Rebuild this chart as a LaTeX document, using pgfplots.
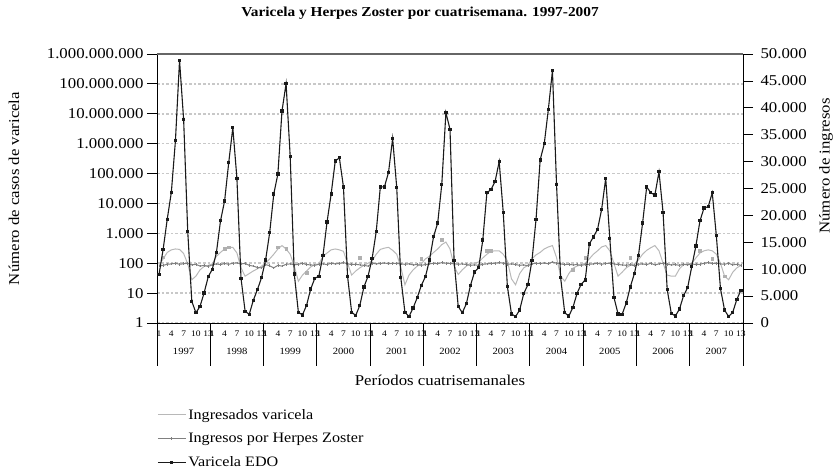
\documentclass[border=0pt]{standalone}
\usepackage{fontspec}
\setmainfont{Liberation Serif}[FakeStretch=1.12]
\usepackage{pgfplots}
\usepackage{pgfplotstable}
\pgfplotsset{compat=1.18}
\definecolor{edoc}{HTML}{1A1A1A}
\definecolor{hzc}{HTML}{808080}
\definecolor{ingc}{HTML}{B8B8B8}
\definecolor{sqc}{HTML}{B0B0B0}
\definecolor{gridc}{HTML}{C8C8C8}
\definecolor{topc}{HTML}{666666}

\pgfplotstableread{
i edo ing hz
0 9070 85 80
1 13700 140 85
2 19300 230 92
3 24300 280 95
4 33900 300 100
5 48800 290 92
6 37800 210 96
7 17000 95 100
8 4000 28 88
9 1900 37 92
10 3100 60 80
11 5600 78 85
12 8600 85 78
13 10000 95 88
14 13100 170 95
15 19000 230 90
16 22700 300 98
17 29800 330 92
18 36300 340 100
19 26900 220 103
20 8300 70 95
21 2200 37 98
22 1600 45 85
23 4200 55 80
24 6200 65 72
25 8400 80 70
26 11700 100 90
27 16800 140 82
28 24000 200 70
29 27700 300 85
30 39400 390 80
31 44500 300 92
32 31000 200 95
33 9100 80 88
34 2000 25 92
35 1500 40 100
36 3300 55 90
37 6300 75 88
38 8300 90 85
39 8700 95 92
40 12500 170 95
41 18800 220 90
42 24000 280 100
43 30100 300 95
44 30700 280 98
45 25300 250 105
46 8700 100 96
47 2000 40 90
48 1400 55 92
49 3300 70 88
50 6700 85 85
51 8700 100 80
52 12000 120 100
53 17000 200 95
54 25300 290 98
55 25300 320 102
56 28000 340 96
57 34300 270 100
58 25200 200 98
59 8400 75 95
60 2000 19 92
61 1200 40 95
62 2800 60 88
63 4700 80 90
64 7000 95 85
65 8600 140 90
66 11700 170 95
67 16100 230 100
68 18600 300 96
69 25800 420 105
70 39100 510 100
71 36000 300 98
72 11600 80 96
73 3100 42 92
74 1900 60 95
75 3600 80 90
76 7000 100 85
77 9500 100 88
78 10300 110 85
79 15400 150 92
80 24200 200 95
81 24800 250 98
82 26300 260 100
83 30000 260 105
84 20500 200 100
85 6800 120 92
86 1700 30 95
87 1200 19 90
88 2400 45 85
89 5500 70 88
90 7100 85 82
91 11600 140 95
92 19300 190 100
93 30300 230 98
94 33300 300 102
95 39700 350 96
96 46900 390 110
97 25700 155 100
98 8400 37 95
99 1900 25 90
100 1300 45 92
101 2900 68 88
102 5500 80 90
103 7200 90 85
104 8000 100 90
105 14700 140 92
106 16000 200 95
107 17400 260 100
108 21100 350 92
109 26900 390 98
110 15700 260 100
111 4800 100 95
112 1700 37 90
113 1600 50 88
114 3700 70 85
115 6700 85 90
116 9200 95 82
117 12600 130 92
118 18600 200 95
119 25300 270 90
120 24200 330 100
121 23800 390 88
122 28100 260 95
123 20500 100 100
124 6200 40 92
125 1800 37 88
126 1300 37 90
127 2600 65 85
128 5100 90 92
129 6600 95 88
130 10500 100 95
131 14300 150 90
132 19000 220 92
133 21400 260 100
134 21600 280 105
135 24200 260 98
136 16200 200 100
137 6400 100 95
138 2400 37 92
139 1200 28 100
140 2000 50 88
141 4400 70 92
142 6100 85 85
}\datatable

\pgfplotstableread{
i v
1 160
16 300
17 340
29 340
31 300
36 48
49 155
64 140
69 620
80 260
81 260
101 62
104 155
115 155
132 260
135 140
138 37
}\squares

\newcommand{\fs}[1]{\fontsize{#1}{#1}\selectfont}

\begin{document}
\begin{tikzpicture}
\path[use as bounding box] (0,0) rectangle (839pt,469pt);
\node[font=\bfseries\fs{13.7}] at (420pt,456pt) {Varicela y Herpes Zoster por cuatrisemana. 1997-2007};

\begin{axis}[
  at={(157pt,146pt)}, anchor=south west,
  width=586pt, height=269pt, scale only axis,
  clip mode=individual,
  xmin=-0.5, xmax=142.5,
  ymode=log, ymin=1, ymax=1e9,
  axis x line*=bottom, axis y line*=left,
  axis line style={black, line width=0.9pt},
  ytick={1,10,100,1000,10000,100000,1000000,10000000,100000000,1000000000},
  yticklabels={1,10,100,1.000,10.000,100.000,1.000.000,10.000.000,100.000.000,1.000.000.000},
  yminorticks=false,
  ymajorgrids,
  y grid style={draw=gridc, line width=1.6pt, dash pattern=on 2.6pt off 2pt},
  ytick style={black, line width=0.8pt},
  y tick label style={font=\fs{15}},
  xtick={0,3,6,9,12,13,16,19,22,25,26,29,32,35,38,39,42,45,48,51,52,55,58,61,64,65,68,71,74,77,78,81,84,87,90,91,94,97,100,103,104,107,110,113,116,117,120,123,126,129,130,133,136,139,142},
  xticklabels={1,4,7,10,13,1,4,7,10,13,1,4,7,10,13,1,4,7,10,13,1,4,7,10,13,1,4,7,10,13,1,4,7,10,13,1,4,7,10,13,1,4,7,10,13,1,4,7,10,13,1,4,7,10,13},
  x tick label style={font=\fs{8.5}, inner sep=1pt, yshift=3pt},
  tick align=outside,
  major tick length=10pt,
  xtick style={draw=none},
  xlabel={Períodos cuatrisemanales},
  xlabel style={at={(axis description cs:0.483,-0.212)}, anchor=center, font=\fs{15}},
  ylabel={Número de casos de varicela},
  ylabel style={at={(axis description cs:-0.244,0.5)}, anchor=center, font=\fs{15}},
]
\addplot[color=ingc, line width=1pt] table[x=i, y=ing] {\datatable};
\addplot[color=hzc, line width=1pt, mark=|, mark size=1.3pt, mark options={solid, line width=0.6pt}] table[x=i, y=hz] {\datatable};
\addplot[only marks, mark=square*, mark size=1.3pt, color=sqc] table[x=i, y=v] {\squares};
\pgfplotsinvokeforeach{-0.5,12.5,25.5,38.5,51.5,64.5,77.5,90.5,103.5,116.5,129.5,142.5}{
  \draw[black, line width=0.9pt] (axis cs:#1,1) -- ++(0pt,-43pt);
}
\node[font=\fs{9.5}] at (axis cs:6,1) [yshift=-28pt] {1997};
\node[font=\fs{9.5}] at (axis cs:19,1) [yshift=-28pt] {1998};
\node[font=\fs{9.5}] at (axis cs:32,1) [yshift=-28pt] {1999};
\node[font=\fs{9.5}] at (axis cs:45,1) [yshift=-28pt] {2000};
\node[font=\fs{9.5}] at (axis cs:58,1) [yshift=-28pt] {2001};
\node[font=\fs{9.5}] at (axis cs:71,1) [yshift=-28pt] {2002};
\node[font=\fs{9.5}] at (axis cs:84,1) [yshift=-28pt] {2003};
\node[font=\fs{9.5}] at (axis cs:97,1) [yshift=-28pt] {2004};
\node[font=\fs{9.5}] at (axis cs:110,1) [yshift=-28pt] {2005};
\node[font=\fs{9.5}] at (axis cs:123,1) [yshift=-28pt] {2006};
\node[font=\fs{9.5}] at (axis cs:136,1) [yshift=-28pt] {2007};
\end{axis}

\begin{axis}[
  at={(157pt,146pt)}, anchor=south west,
  width=586pt, height=269pt, scale only axis,
  clip mode=individual,
  xmin=-0.5, xmax=142.5,
  ymin=0, ymax=50000,
  scaled y ticks=false,
  axis y line*=right, axis x line=none,
  axis line style={black, line width=0.9pt},
  ytick={0,5000,10000,15000,20000,25000,30000,35000,40000,45000,50000},
  yticklabels={0,5.000,10.000,15.000,20.000,25.000,30.000,35.000,40.000,45.000,50.000},
  ytick style={black, line width=0.8pt},
  tick align=outside,
  major tick length=10pt,
  y tick label style={font=\fs{15}, xshift=4pt},
  ylabel={Número de ingresos},
  ylabel style={at={(axis description cs:1.1416,0.584)}, anchor=center, font=\fs{15}},
  legend style={at={(axis description cs:0.0,-0.312)}, anchor=north west, draw=none, fill=none, font=\fs{14.4}, inner sep=0pt, row sep=8.6pt},
  legend cell align=left,
  legend image code/.code={\draw[mark repeat=2, mark phase=2, #1] plot coordinates {(0pt,0pt) (14pt,0pt) (28pt,0pt)};},
]
\addlegendimage{color=ingc, line width=1pt}
\addlegendentry{Ingresados varicela}
\addlegendimage{color=hzc, line width=1pt, mark=|, mark size=1.3pt, mark options={solid, line width=0.6pt}}
\addlegendentry{Ingresos por Herpes Zoster}
\addplot[color=edoc, line width=1.1pt, mark=square*, mark size=1.1pt] table[x=i, y=edo] {\datatable};
\addlegendentry{Varicela EDO}
\draw[topc, line width=1.3pt] (rel axis cs:0,1) -- (rel axis cs:1,1);
\end{axis}
\end{tikzpicture}
\end{document}
